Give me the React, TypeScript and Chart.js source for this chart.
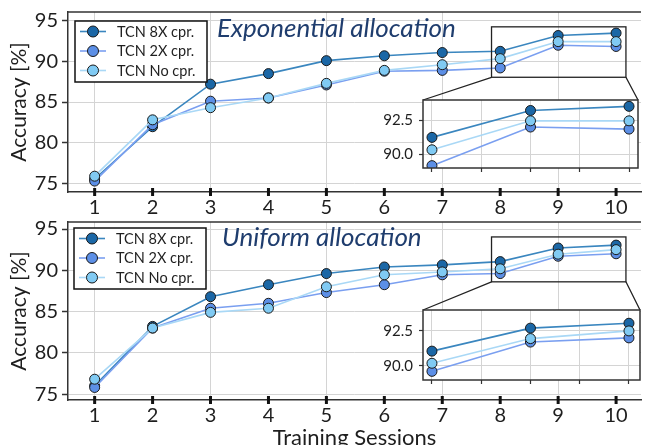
import React, { useEffect, useRef } from 'react';
import { Chart, registerables } from 'chart.js';

Chart.register(...registerables);

const FONT = "Lato, 'DejaVu Sans', sans-serif";

// ---------- data ----------
const sessions = [1, 2, 3, 4, 5, 6, 7, 8, 9, 10];
const seriesLabels = ['TCN 8X cpr.', 'TCN 2X cpr.', 'TCN No cpr.'];

const expTcn8x = [75.5, 81.95, 87.2, 88.5, 90.1, 90.7, 91.1, 91.25, 93.2, 93.5];
const expTcn2x = [75.25, 82.2, 85.1, 85.5, 87.1, 88.8, 88.9, 89.2, 92.0, 91.85];
const expTcnNo = [75.85, 82.8, 84.3, 85.5, 87.3, 88.9, 89.6, 90.35, 92.45, 92.45];

const uniTcn8x = [76.0, 83.2, 86.8, 88.25, 89.6, 90.4, 90.65, 91.05, 92.7, 93.05];
const uniTcn2x = [75.8, 83.0, 85.4, 86.0, 87.3, 88.25, 89.45, 89.6, 91.7, 92.0];
const uniTcnNo = [76.8, 83.0, 84.9, 85.4, 88.0, 89.45, 89.8, 90.18, 91.95, 92.5];

const panelTitles = ['Exponential allocation', 'Uniform allocation'];
const yAxisTitle = 'Accuracy [%]';
const xAxisTitle = 'Training Sessions';

// ---------- styles ----------
const markerColors = ['#1b67a6', '#5c8fe6', '#80caf3'];
const lineColors = ['#3a86bf', '#7a9ff0', '#a9d8f6'];
const gridColor = '#d4d4d4';
const spineColor = '#333333';
const textColor = '#1e1e1e';

function buildDatasets(series: number[][], radius: number, from: number) {
  return series.map((vals, i) => ({
    label: seriesLabels[i],
    data: sessions.slice(from).map((s, j) => ({ x: s, y: vals[from + j] })),
    borderColor: lineColors[i],
    backgroundColor: markerColors[i],
    pointBackgroundColor: markerColors[i],
    pointBorderColor: '#1a1a1a',
    pointBorderWidth: 1,
    pointRadius: radius,
    borderWidth: 1.6,
    tension: 0,
    order: 3 - i,
  }));
}

function panelPlugin(cfg: any) {
  return {
    id: 'panelDecor',
    afterDraw(chart: any) {
      const { ctx, chartArea: a, scales } = chart;
      const x = scales.x;
      const y = scales.y;
      ctx.save();
      // top spine
      ctx.strokeStyle = spineColor;
      ctx.lineWidth = 1.5;
      ctx.beginPath();
      ctx.moveTo(a.left, a.top);
      ctx.lineTo(a.right, a.top);
      ctx.stroke();
      // x tick marks crossing the bottom spine
      ctx.strokeStyle = '#111';
      ctx.lineWidth = 3;
      for (const t of x.ticks) {
        const px = x.getPixelForValue(t.value);
        ctx.beginPath();
        ctx.moveTo(px, a.bottom - 4);
        ctx.lineTo(px, a.bottom + 4);
        ctx.stroke();
      }
      // zoom box
      const [zx0, zx1, zy0, zy1] = cfg.zoomBox;
      const bx0 = x.getPixelForValue(zx0);
      const bx1 = x.getPixelForValue(zx1);
      const by0 = y.getPixelForValue(zy1);
      const by1 = y.getPixelForValue(zy0);
      ctx.strokeStyle = '#222';
      ctx.lineWidth = 1.3;
      ctx.strokeRect(bx0, by0, bx1 - bx0, by1 - by0);
      const inset = cfg.getInset && cfg.getInset();
      if (inset && inset.chartArea) {
        const ia = inset.chartArea;
        const ox = cfg.insetOffset[0];
        const oy = cfg.insetOffset[1];
        ctx.beginPath();
        ctx.moveTo(bx0, by1);
        ctx.lineTo(ia.left + ox, ia.top + oy);
        ctx.moveTo(bx1, by1);
        ctx.lineTo(ia.right + ox, ia.top + oy);
        ctx.stroke();
      }
      // panel title
      ctx.font = `italic 26px ${FONT}`;
      ctx.fillStyle = '#1f3d6e';
      ctx.textBaseline = 'alphabetic';
      ctx.textAlign = 'left';
      ctx.fillText(cfg.title, a.left + cfg.titlePos[0], a.top + cfg.titlePos[1]);
      // legend
      const lx = a.left + cfg.legendPos[0];
      const ly = a.top + cfg.legendPos[1];
      const lw = 132;
      const lh = 61;
      ctx.fillStyle = '#ffffff';
      ctx.fillRect(lx, ly, lw, lh);
      ctx.strokeStyle = '#111';
      ctx.lineWidth = 1.5;
      ctx.strokeRect(lx, ly, lw, lh);
      chart.data.datasets.forEach((ds: any, i: number) => {
        const cy = ly + 10.5 + i * 19.5;
        ctx.strokeStyle = ds.borderColor;
        ctx.lineWidth = 1.6;
        ctx.beginPath();
        ctx.moveTo(lx + 5, cy);
        ctx.lineTo(lx + 31, cy);
        ctx.stroke();
        ctx.beginPath();
        ctx.arc(lx + 18, cy, 5.5, 0, Math.PI * 2);
        ctx.fillStyle = ds.pointBackgroundColor;
        ctx.fill();
        ctx.strokeStyle = '#1a1a1a';
        ctx.lineWidth = 1;
        ctx.stroke();
        ctx.fillStyle = textColor;
        ctx.font = `14.5px ${FONT}`;
        ctx.textBaseline = 'middle';
        ctx.fillText(ds.label, lx + 42, cy + 0.5);
      });
      ctx.restore();
    },
  };
}

const insetPlugin = {
  id: 'insetFrame',
  beforeDraw(chart: any) {
    const { ctx, chartArea: a } = chart;
    ctx.save();
    ctx.fillStyle = '#ffffff';
    ctx.fillRect(a.left, a.top, a.right - a.left, a.bottom - a.top);
    ctx.restore();
  },
  afterDraw(chart: any) {
    const { ctx, chartArea: a } = chart;
    ctx.save();
    ctx.strokeStyle = spineColor;
    ctx.lineWidth = 1.5;
    ctx.strokeRect(a.left, a.top, a.right - a.left, a.bottom - a.top);
    ctx.restore();
  },
};

function mainChart(canvas: HTMLCanvasElement, series: number[][], o: any) {
  return new Chart(canvas, {
    type: 'line',
    data: { datasets: buildDatasets(series, 5, 0) as any },
    options: {
      animation: false,
      responsive: false,
      devicePixelRatio: 1,
      layout: { padding: { top: o.padTop, right: 0, left: 0, bottom: 0 } },
      plugins: { legend: { display: false }, tooltip: { enabled: false } },
      scales: {
        x: {
          type: 'linear',
          min: 0.54,
          max: 10.43,
          afterFit: (s: any) => {
            s.height = o.xHeight;
          },
          ticks: {
            stepSize: 1,
            includeBounds: false,
            autoSkip: false,
            maxRotation: 0,
            padding: 4,
            color: textColor,
            font: { family: FONT, size: 20 },
            callback: (v: any) => String(v),
          },
          grid: {
            drawTicks: false,
            color: (c: any) => (c.tick && Math.round(c.tick.value) % 2 === 1 ? gridColor : 'rgba(0,0,0,0)'),
            lineWidth: 1,
          },
          border: { display: true, color: spineColor, width: 1.5 },
          title: {
            display: o.showXTitle,
            text: xAxisTitle,
            color: textColor,
            font: { family: FONT, size: 22, lineHeight: 0.6 },
            padding: { top: 0, bottom: 0 },
          },
        },
        y: {
          min: o.yMin,
          max: o.yMax,
          afterFit: (s: any) => {
            s.width = 68;
          },
          ticks: {
            stepSize: 5,
            includeBounds: false,
            padding: 4,
            color: textColor,
            font: { family: FONT, size: 20 },
          },
          grid: { color: gridColor, tickColor: spineColor, tickLength: 6, tickWidth: 1.5, lineWidth: 1 },
          border: { display: true, color: spineColor, width: 1.5 },
          title: {
            display: true,
            text: yAxisTitle,
            color: textColor,
            font: { family: FONT, size: 21 },
            padding: { top: 7, bottom: 0 },
          },
        },
      },
    } as any,
    plugins: [panelPlugin(o)],
  });
}

function insetChart(canvas: HTMLCanvasElement, series: number[][], o: any) {
  return new Chart(canvas, {
    type: 'line',
    data: { datasets: buildDatasets(series, 5, 7) as any },
    options: {
      animation: false,
      responsive: false,
      devicePixelRatio: 1,
      layout: { padding: { top: 15, right: o.padRight, left: 0, bottom: 0 } },
      plugins: { legend: { display: false }, tooltip: { enabled: false } },
      scales: {
        x: {
          type: 'linear',
          min: 7.909,
          max: o.xMax,
          afterFit: (s: any) => {
            s.height = 12;
          },
          ticks: { stepSize: 0.5, includeBounds: false, display: false },
          grid: { color: gridColor, tickColor: spineColor, tickLength: 4, tickWidth: 1.2, lineWidth: 1 },
          border: { display: false },
        },
        y: {
          min: o.yMin,
          max: o.yMax,
          afterFit: (s: any) => {
            s.width = 53;
          },
          ticks: {
            stepSize: 2.5,
            includeBounds: false,
            padding: 6,
            color: textColor,
            font: { family: FONT, size: 15 },
            callback: (v: any) => Number(v).toFixed(1),
          },
          grid: { color: gridColor, tickColor: spineColor, tickLength: 4, tickWidth: 1.2, lineWidth: 1 },
          border: { display: false },
        },
      },
    } as any,
    plugins: [insetPlugin],
  });
}

export default function App() {
  const topRef = useRef<HTMLCanvasElement>(null);
  const botRef = useRef<HTMLCanvasElement>(null);
  const topInsetRef = useRef<HTMLCanvasElement>(null);
  const botInsetRef = useRef<HTMLCanvasElement>(null);

  useEffect(() => {
    const charts: Chart[] = [];
    const ti = insetChart(topInsetRef.current!, [expTcn8x, expTcn2x, expTcnNo], {
      padRight: 9,
      xMax: 10.091,
      yMin: 89.03,
      yMax: 93.96,
    });
    const bi = insetChart(botInsetRef.current!, [uniTcn8x, uniTcn2x, uniTcnNo], {
      padRight: 7,
      xMax: 10.112,
      yMin: 88.98,
      yMax: 94.0,
    });
    charts.push(ti, bi);
    charts.push(
      mainChart(topRef.current!, [expTcn8x, expTcn2x, expTcnNo], {
        padTop: 14,
        xHeight: 24,
        yMin: 73.9,
        yMax: 96.1,
        showXTitle: false,
        title: panelTitles[0],
        titlePos: [149, 25],
        legendPos: [7, 9],
        zoomBox: [7.85, 10.17, 88.05, 94.27],
        getInset: () => ti,
        insetOffset: [370, 85 - -4],
      })
    );
    charts.push(
      mainChart(botRef.current!, [uniTcn8x, uniTcn2x, uniTcnNo], {
        padTop: 15,
        xHeight: 45,
        yMin: 74.28,
        yMax: 95.85,
        showXTitle: true,
        title: panelTitles[1],
        titlePos: [154, 24],
        legendPos: [6, 6],
        zoomBox: [7.85, 10.17, 88.6, 94.04],
        getInset: () => bi,
        insetOffset: [370, 295 - 206],
      })
    );
    return () => charts.forEach((c) => c.destroy());
  }, []);

  const abs = (left: number, top: number, width: number, height: number): React.CSSProperties => ({
    position: 'absolute',
    left,
    top,
    width,
    height,
  });

  return (
    <div style={{ position: 'absolute', left: 0, top: 0, width: 647, height: 445, background: '#ffffff', overflow: 'hidden' }}>
      <canvas ref={topRef} width={647} height={220} style={abs(0, -4, 647, 220)} />
      <canvas ref={botRef} width={647} height={239} style={abs(0, 206, 647, 239)} />
      <canvas ref={topInsetRef} width={277} height={98} style={abs(370, 85, 277, 98)} />
      <canvas ref={botInsetRef} width={277} height={100} style={abs(370, 295, 277, 100)} />
    </div>
  );
}
